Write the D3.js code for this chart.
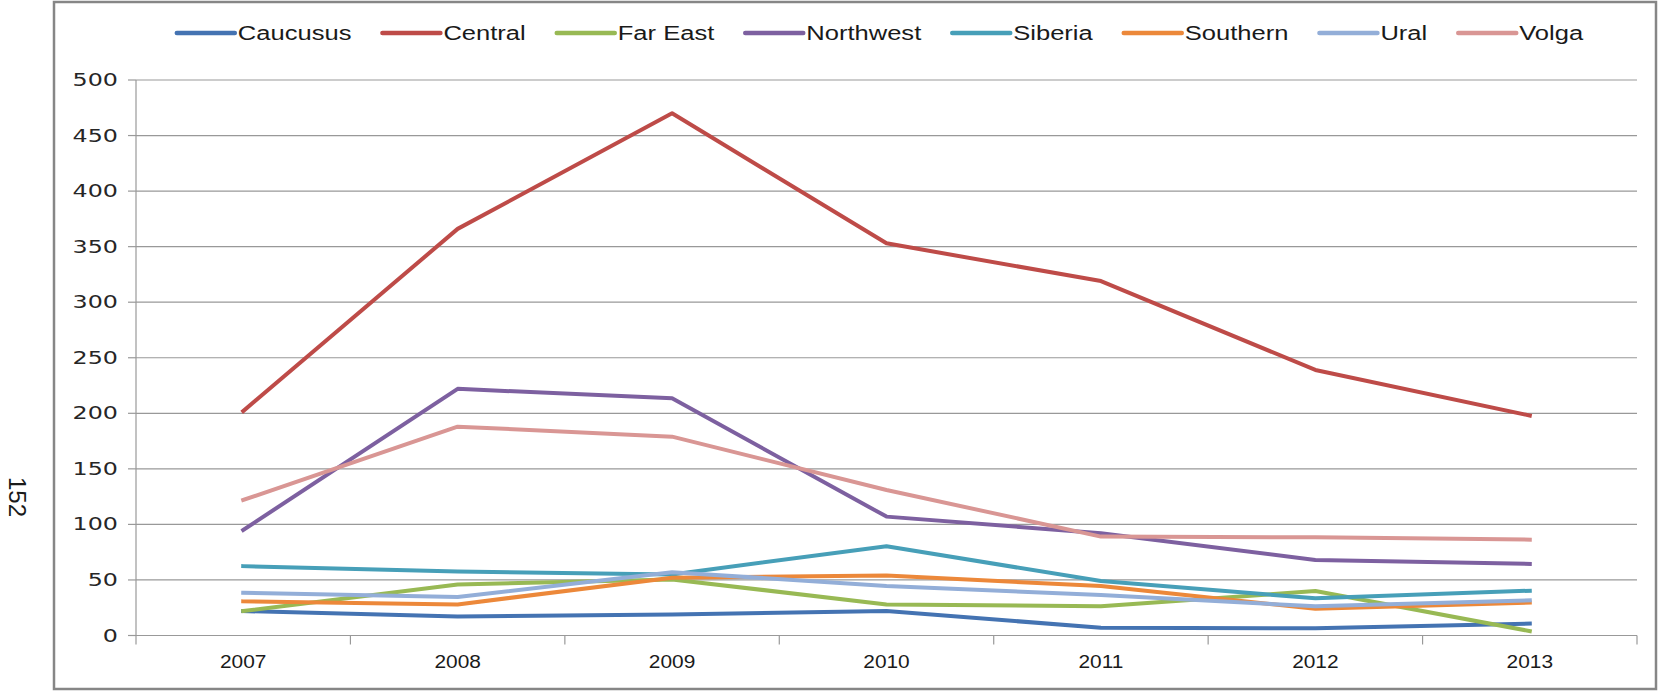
<!DOCTYPE html>
<html><head><meta charset="utf-8">
<script src="https://cdn.jsdelivr.net/npm/d3@7/dist/d3.min.js"></script>
<style>body{margin:0;background:#fff}svg{display:block}</style>
</head><body>
<script>
const years = ["2007","2008","2009","2010","2011","2012","2013"];
const seriesNames = ["Caucusus","Central","Far East","Northwest","Siberia","Southern","Ural","Volga"];
const caucusus  = [22, 17, 19, 22, 7, 6.5, 10.7];
const central   = [202, 366, 470, 353, 319, 239, 198];
const farEast   = [22, 46, 50.5, 28, 26.3, 40, 4];
const northwest = [95, 222, 213.5, 107, 92, 68, 64.5];
const siberia   = [62.4, 57.6, 55, 80.3, 49, 33.5, 40.3];
const southern  = [30.7, 28, 52, 54, 44.5, 24, 29.6];
const ural      = [38.5, 34.6, 57, 44.5, 36.5, 26.3, 31.6];
const volga     = [122, 188, 179, 131, 89, 88.4, 86.3];
const seriesValues = [caucusus, central, farEast, northwest, siberia, southern, ural, volga];
const colors = ["#4473B2","#BE4B48","#98B954","#7D60A0","#479FB8","#EC883A","#93AED8","#D99694"];
const yTicks = [0,50,100,150,200,250,300,350,400,450,500];
const sideLabel = "152";

const W = 1669, H = 692;
const plot = {left:136, right:1637, top:80, bottom:635.5};
const SX = 1.4;   // horizontal stretch for y labels
const SXN = 1.16; // horizontal stretch for x labels
const SXL = 1.31; // horizontal stretch for legend labels
const gridColor = "#999999";

const svg = d3.select("body").append("svg").attr("width",W).attr("height",H);
svg.append("rect").attr("x",0).attr("y",0).attr("width",W).attr("height",H).attr("fill","#fff");
svg.append("rect").attr("x",54).attr("y",2).attr("width",1602).attr("height",687)
  .attr("fill","none").attr("stroke","#868686").attr("stroke-width",2.5);

const x = d3.scaleBand().domain(years).range([plot.left, plot.right]).padding(0);
const y = d3.scaleLinear().domain([0,500]).range([plot.bottom, plot.top]);
const cx = d => x(d) + x.bandwidth()/2;

svg.append("g").selectAll("line").data(yTicks.filter(t=>t>0)).join("line")
  .attr("x1",plot.left).attr("x2",plot.right)
  .attr("y1",d=>y(d)).attr("y2",d=>y(d))
  .attr("stroke",gridColor).attr("stroke-width",1.2);
svg.append("g").selectAll("line").data(yTicks).join("line")
  .attr("x1",plot.left-8).attr("x2",plot.left)
  .attr("y1",d=>y(d)).attr("y2",d=>y(d))
  .attr("stroke",gridColor).attr("stroke-width",1.2);
svg.append("line").attr("x1",plot.left).attr("x2",plot.left).attr("y1",plot.top).attr("y2",plot.bottom)
  .attr("stroke",gridColor).attr("stroke-width",1.2);
svg.append("line").attr("x1",plot.left).attr("x2",plot.right).attr("y1",plot.bottom).attr("y2",plot.bottom)
  .attr("stroke",gridColor).attr("stroke-width",1.2);
const bounds = years.map(d=>x(d)).concat([x(years[years.length-1])+x.bandwidth()]);
svg.append("g").selectAll("line").data(bounds).join("line")
  .attr("x1",d=>d).attr("x2",d=>d).attr("y1",plot.bottom).attr("y2",plot.bottom+9)
  .attr("stroke",gridColor).attr("stroke-width",1.2);

svg.append("g").selectAll("text").data(yTicks).join("text")
  .attr("transform",d=>`translate(118,${y(d)+6}) scale(${SX},1)`)
  .attr("text-anchor","end")
  .style("font-family","'DejaVu Sans', Verdana, sans-serif").style("font-size","17px")
  .attr("fill","#262626").text(d=>d);
svg.append("g").selectAll("text").data(years).join("text")
  .attr("transform",d=>`translate(${cx(d)},668) scale(${SXN},1)`)
  .attr("text-anchor","middle")
  .style("font-family","'Liberation Sans', Arial, sans-serif").style("font-size","18px")
  .attr("fill","#1a1a1a").text(d=>d);

svg.append("text").attr("transform","translate(9,497) rotate(90)")
  .attr("text-anchor","middle")
  .style("font-family","'Liberation Sans', Arial, sans-serif").style("font-size","24px")
  .attr("fill","#1a1a1a").text(sideLabel);

const line = d3.line().x((d,i)=>cx(years[i])).y(d=>y(d));
svg.append("g").selectAll("path").data(seriesValues).join("path")
  .attr("d",d=>line(d)).attr("fill","none")
  .attr("stroke",(d,i)=>colors[i]).attr("stroke-width",4)
  .attr("stroke-linejoin","round").attr("stroke-linecap","square");

const lg = svg.append("g");
const items = seriesNames.map((n,i)=>{
  const g = lg.append("g");
  g.append("line").attr("x1",0).attr("x2",58).attr("y1",0).attr("y2",0)
    .attr("stroke",colors[i]).attr("stroke-width",4.5).attr("stroke-linecap","round");
  const t = g.append("text").attr("transform",`translate(61,7) scale(${SXL},1)`)
    .style("font-family","'Liberation Sans', Arial, sans-serif").style("font-size","19.5px")
    .attr("fill","#1a1a1a").text(n);
  return {g, w: 61 + t.node().getComputedTextLength()*SXL};
});
const gap = 31;
const total = d3.sum(items, d=>d.w) + gap*(items.length-1);
let pos = 880 - total/2;
items.forEach(it=>{ it.g.attr("transform",`translate(${pos},33)`); pos += it.w + gap; });
</script>
</body></html>
